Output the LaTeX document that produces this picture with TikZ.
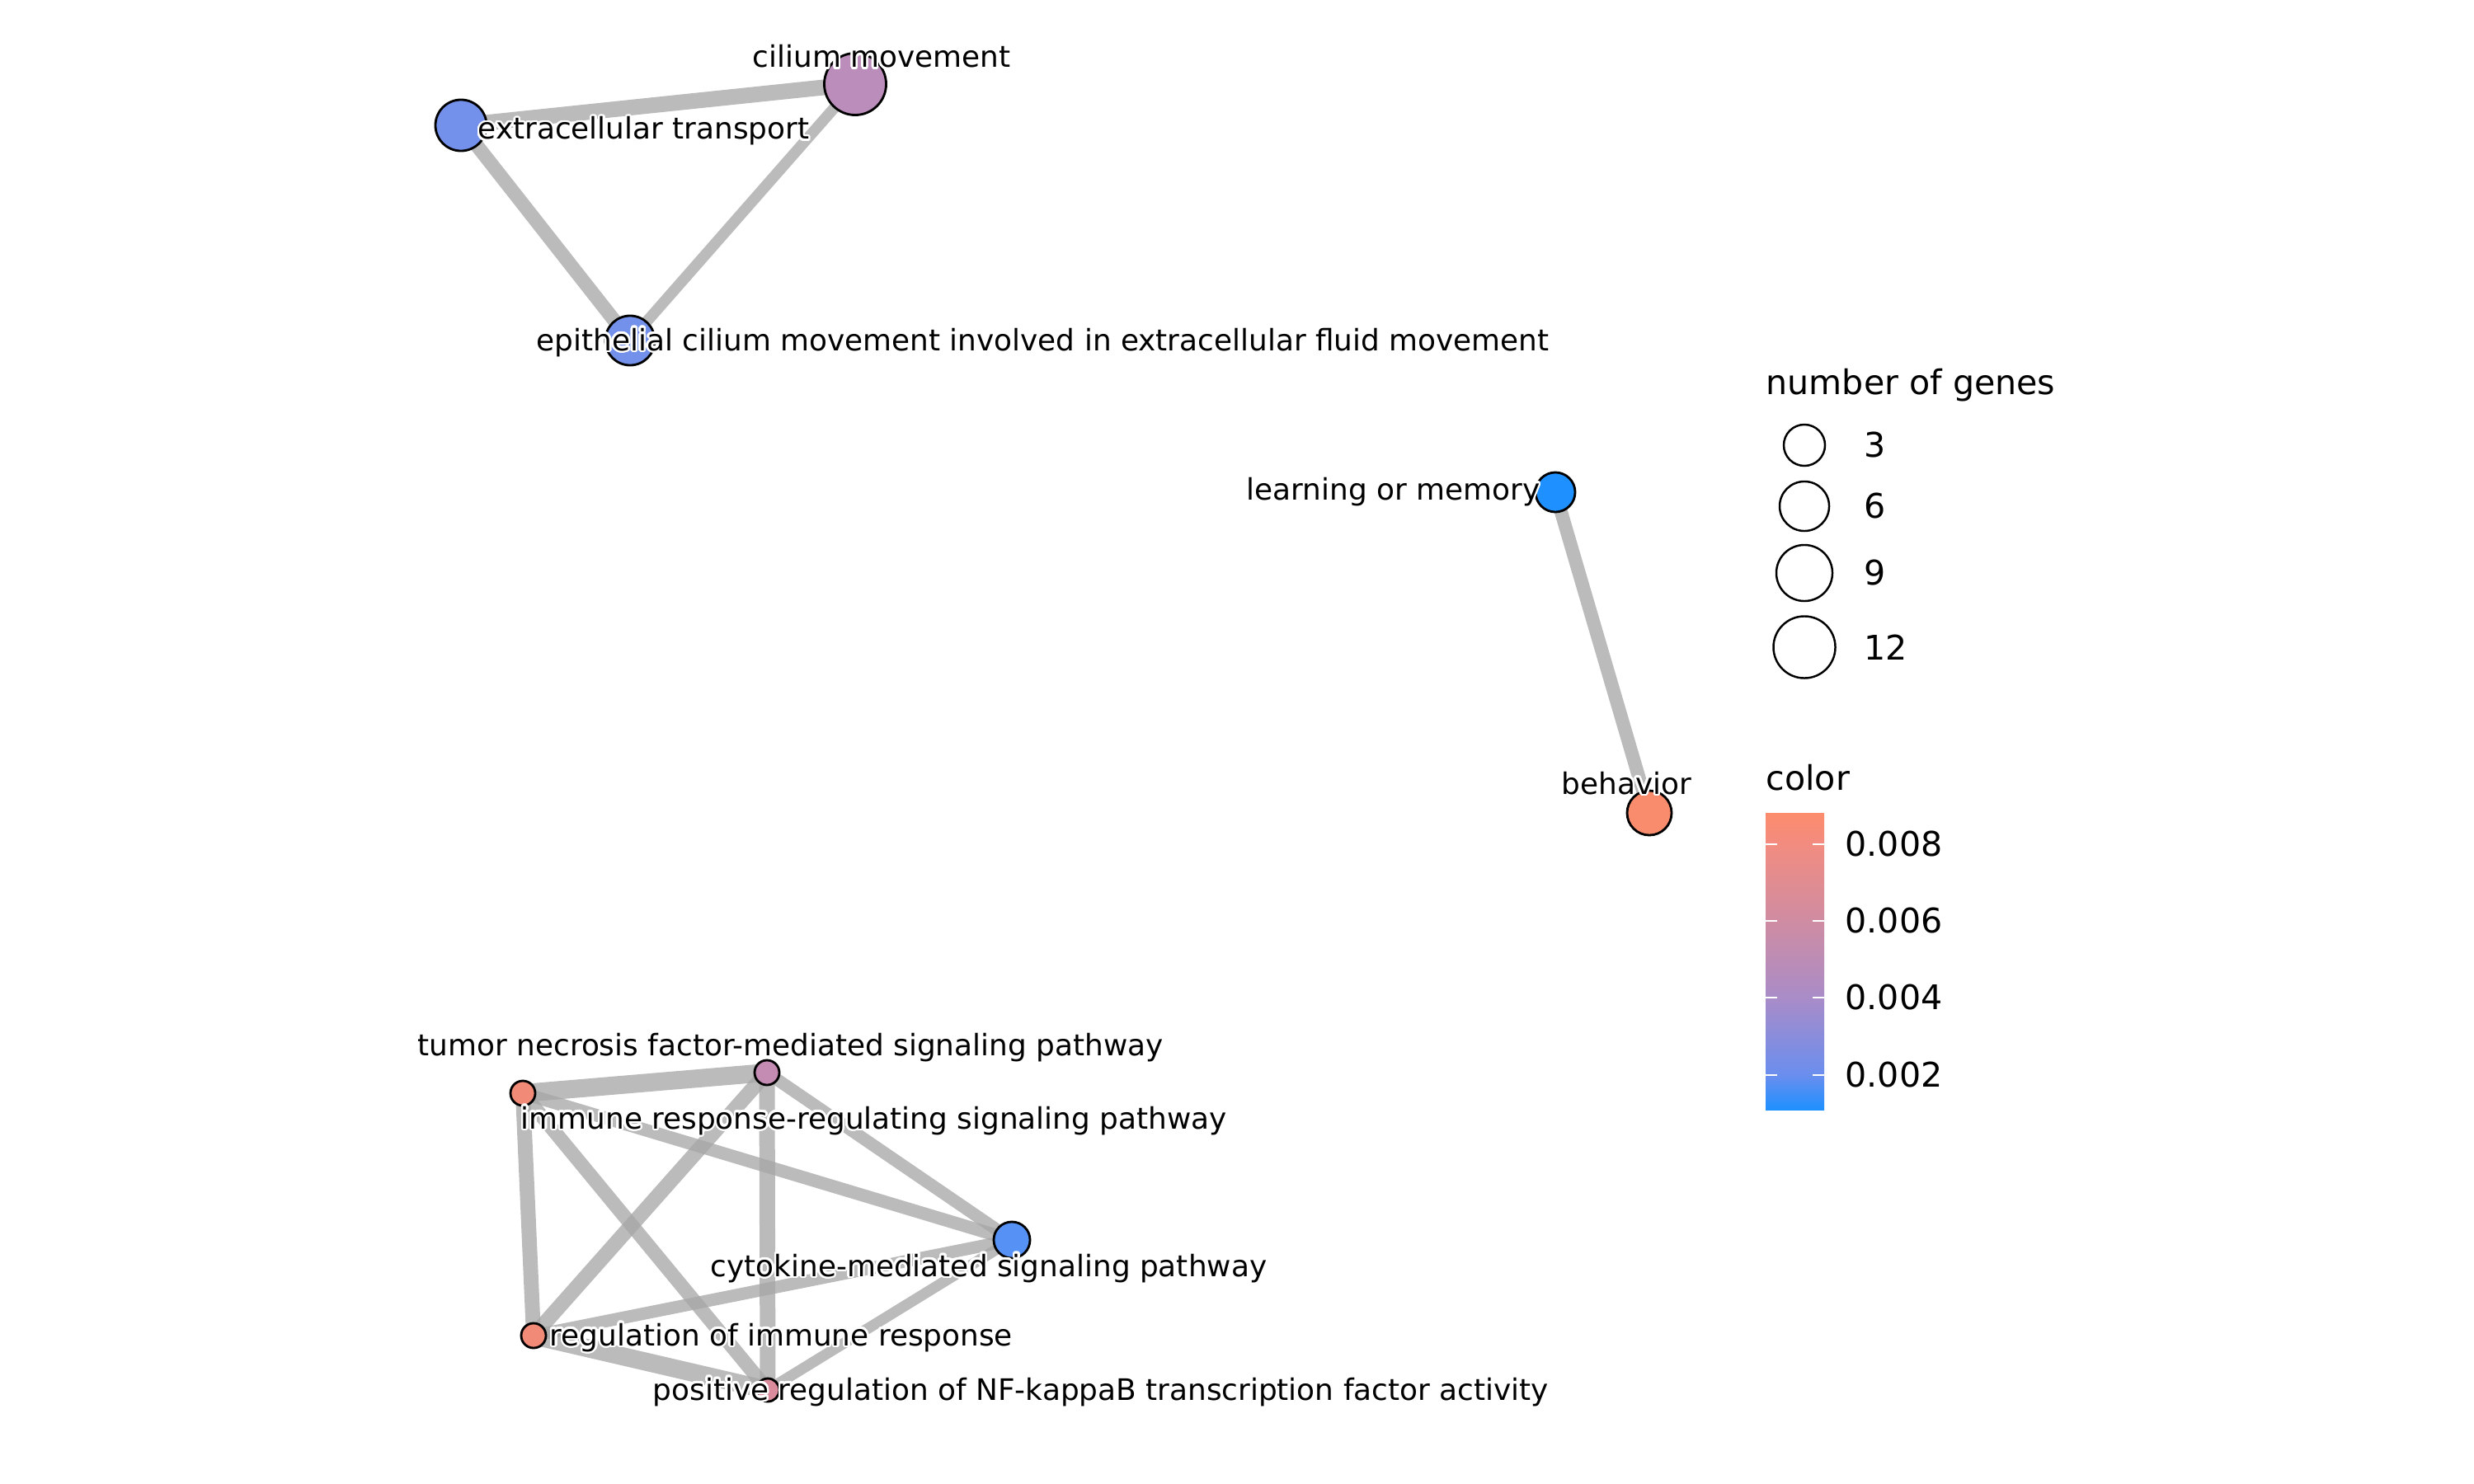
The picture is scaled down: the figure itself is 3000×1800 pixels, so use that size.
\documentclass[tikz,border=0pt]{standalone}
\usepackage{fontspec}
\setmainfont{DejaVu Sans}
\usepackage[copies]{contour}
\contourlength{0.7pt}
\contournumber{24}
\pgfdeclarelayer{bg}
\pgfsetlayers{bg,main}
\definecolor{edgegray}{RGB}{166,166,166}
\definecolor{cA}{HTML}{7390EA}
\definecolor{cCil}{HTML}{BB8DBA}
\definecolor{cLM}{HTML}{1E90FF}
\definecolor{cBeh}{HTML}{FA8C6E}
\definecolor{cTnf}{HTML}{C48BB3}
\definecolor{cSal}{HTML}{F18B78}
\definecolor{cCyt}{HTML}{5692F6}
\definecolor{cNfk}{HTML}{DA8C9C}
\definecolor{cb0}{HTML}{1E90FF}
\definecolor{cb1}{HTML}{6A8EEE}
\definecolor{cb2}{HTML}{A98CC8}
\definecolor{cb3}{HTML}{CF8CA2}
\definecolor{cb4}{HTML}{F28C80}
\definecolor{cb5}{HTML}{FC8C6C}
\pgfdeclareverticalshading{cbar}{100bp}{color(0bp)=(cb0); color(25bp)=(cb0); color(30.85bp)=(cb1); color(43.85bp)=(cb2); color(56.8bp)=(cb3); color(69.8bp)=(cb4); color(75bp)=(cb5); color(100bp)=(cb5)}
\begin{document}
\begin{tikzpicture}[x=0.01cm,y=-0.01cm,
  gnode/.style={circle,draw=black,line width=0.8pt,inner sep=0pt},
  lbl/.style={anchor=base west,inner sep=0pt,font=\fontsize{10.2}{12}\selectfont},
  edgeline/.style={draw=edgegray,opacity=0.76,line cap=butt},
  legtext/.style={font=\fontsize{11.7}{14}\selectfont,inner sep=0pt},
  legkey/.style={circle,draw=black,line width=0.7pt,inner sep=0pt},
  tickmark/.style={draw=white,line width=0.45pt}]
\useasboundingbox (0,0) rectangle (3000,1800);
% nodes
\node[gnode,fill=cA,minimum size=0.62cm] (ext) at (559,152) {};
\node[gnode,fill=cCil,minimum size=0.75cm] (cil) at (1037,102) {};
\node[gnode,fill=cA,minimum size=0.60cm] (epi) at (764,413) {};
\node[gnode,fill=cLM,minimum size=0.48cm] (lm) at (1886,597) {};
\node[gnode,fill=cBeh,minimum size=0.54cm] (beh) at (2000,986) {};
\node[gnode,fill=cTnf,minimum size=0.30cm] (tnf) at (930,1301) {};
\node[gnode,fill=cSal,minimum size=0.30cm] (irr) at (634,1326) {};
\node[gnode,fill=cCyt,minimum size=0.44cm] (cyt) at (1227,1504) {};
\node[gnode,fill=cSal,minimum size=0.30cm] (reg) at (647,1620) {};
\node[gnode,fill=cNfk,minimum size=0.28cm] (nfk) at (931,1686) {};
% edges
\begin{pgfonlayer}{bg}
\draw[edgeline,line width=5.4pt] (ext.center) -- (cil.center);
\draw[edgeline,line width=4.8pt] (ext.center) -- (epi.center);
\draw[edgeline,line width=3.8pt] (cil.center) -- (epi.center);
\draw[edgeline,line width=4.6pt] (lm.center) -- (beh.center);
\draw[edgeline,line width=6.26pt] (irr.center) -- (tnf.center);
\draw[edgeline,line width=5.12pt] (irr.center) -- (reg.center);
\draw[edgeline,line width=4.84pt] (irr.center) -- (nfk.center);
\draw[edgeline,line width=4.4pt] (irr.center) -- (cyt.center);
\draw[edgeline,line width=5.12pt] (tnf.center) -- (reg.center);
\draw[edgeline,line width=5.4pt] (tnf.center) -- (nfk.center);
\draw[edgeline,line width=4.27pt] (tnf.center) -- (cyt.center);
\draw[edgeline,line width=4.27pt] (reg.center) -- (cyt.center);
\draw[edgeline,line width=6.26pt] (reg.center) -- (nfk.center);
\draw[edgeline,line width=3.7pt] (nfk.center) -- (cyt.center);
\end{pgfonlayer}
% labels
\node[lbl] (lext) at (579,169) {\contour{white}{extracellular transport}};
\node[lbl] (lcil) at (912,82) {\contour{white}{cilium movement}};
\node[lbl] (lepi) at (650,425) {\contour{white}{epithelial cilium movement involved in extracellular fluid movement}};
\node[lbl] (llm) at (1511,606) {\contour{white}{learning or memory}};
\node[lbl] (lbeh) at (1893,963) {\contour{white}{behavior}};
\node[lbl] (ltnf) at (506,1280) {\contour{white}{tumor necrosis factor-mediated signaling pathway}};
\node[lbl] (lirr) at (631,1369) {\contour{white}{immune response-regulating signaling pathway}};
\node[lbl] (lcyt) at (861,1548) {\contour{white}{cytokine-mediated signaling pathway}};
\node[lbl] (lreg) at (666,1632) {\contour{white}{regulation of immune response}};
\node[lbl] (lnfk) at (791,1698) {\contour{white}{positive regulation of NF-kappaB transcription factor activity}};
% size legend
\node[legtext,anchor=base west] (sizetitle) at (2141,478) {number of genes};
\node[legkey,minimum size=0.50cm] (k3) at (2188,540) {};
\node[legkey,minimum size=0.60cm] (k6) at (2188,614) {};
\node[legkey,minimum size=0.68cm] (k9) at (2188,695) {};
\node[legkey,minimum size=0.75cm] (k12) at (2188,785) {};
\node[legtext,anchor=west] (t3) at (2260,540) {3};
\node[legtext,anchor=west] (t6) at (2260,614) {6};
\node[legtext,anchor=west] (t9) at (2260,695) {9};
\node[legtext,anchor=west] (t12) at (2260,785) {12};
% colour legend
\node[legtext,anchor=base west] (coltitle) at (2141,958) {color};
\shade[shading=cbar] (2141,986) rectangle (2212,1346);
\foreach \yy in {1024,1117,1210,1304} {
  \draw[tickmark] (2141,\yy) -- (2155,\yy);
  \draw[tickmark] (2198,\yy) -- (2212,\yy);
}
\node[legtext,anchor=west] (v8) at (2237,1024) {0.008};
\node[legtext,anchor=west] (v6) at (2237,1117) {0.006};
\node[legtext,anchor=west] (v4) at (2237,1210) {0.004};
\node[legtext,anchor=west] (v2) at (2237,1304) {0.002};
\end{tikzpicture}
\end{document}
